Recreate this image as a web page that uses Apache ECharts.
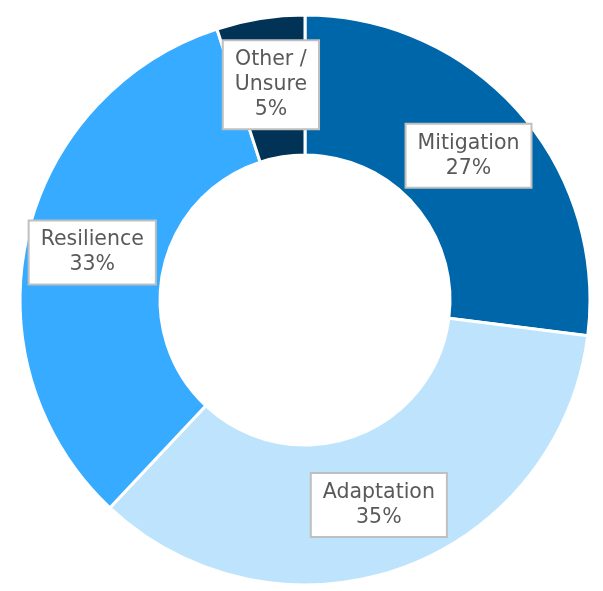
<!DOCTYPE html>
<html>
<head>
<meta charset="utf-8">
<script src="https://cdn.jsdelivr.net/npm/echarts@6/dist/echarts.min.js"></script>
<style>
html, body { margin: 0; padding: 0; background: #fff; }
#container { width: 603px; height: 591px; }
</style>
</head>
<body>
<div id="container"></div>
<script>
var categories = ['Mitigation', 'Adaptation', 'Resilience', 'Other /\nUnsure'];
var values = [27, 35, 33, 5];
var colors = ['#0066AA', '#BDE4FC', '#36ABFF', '#003355'];

var dom = document.getElementById('container');
var myChart = echarts.init(dom, null, { renderer: 'canvas' });

var option = {
    animation: false,
    series: [
        {
            type: 'pie',
            center: [305, 300],
            radius: [145, 285],
            startAngle: 90,
            clockwise: true,
            data: categories.map(function (c, i) {
                return { name: c, value: values[i], itemStyle: { color: colors[i] } };
            }),
            itemStyle: {
                borderColor: '#fff',
                borderWidth: 3
            },
            label: {
                show: true,
                position: 'inside',
                formatter: function (p) { return p.name + '\n' + p.value + '%'; },
                fontFamily: 'DejaVu Sans',
                fontSize: 20.5,
                lineHeight: 25,
                color: '#595959',
                backgroundColor: '#fff',
                borderColor: '#BFBFBF',
                borderWidth: 2,
                padding: [6, 11, 6, 11],
                align: 'center'
            },
            labelLine: { show: false },
            emphasis: { disabled: true }
        }
    ]
};

myChart.setOption(option);
window.addEventListener('resize', myChart.resize);
</script>
</body>
</html>
